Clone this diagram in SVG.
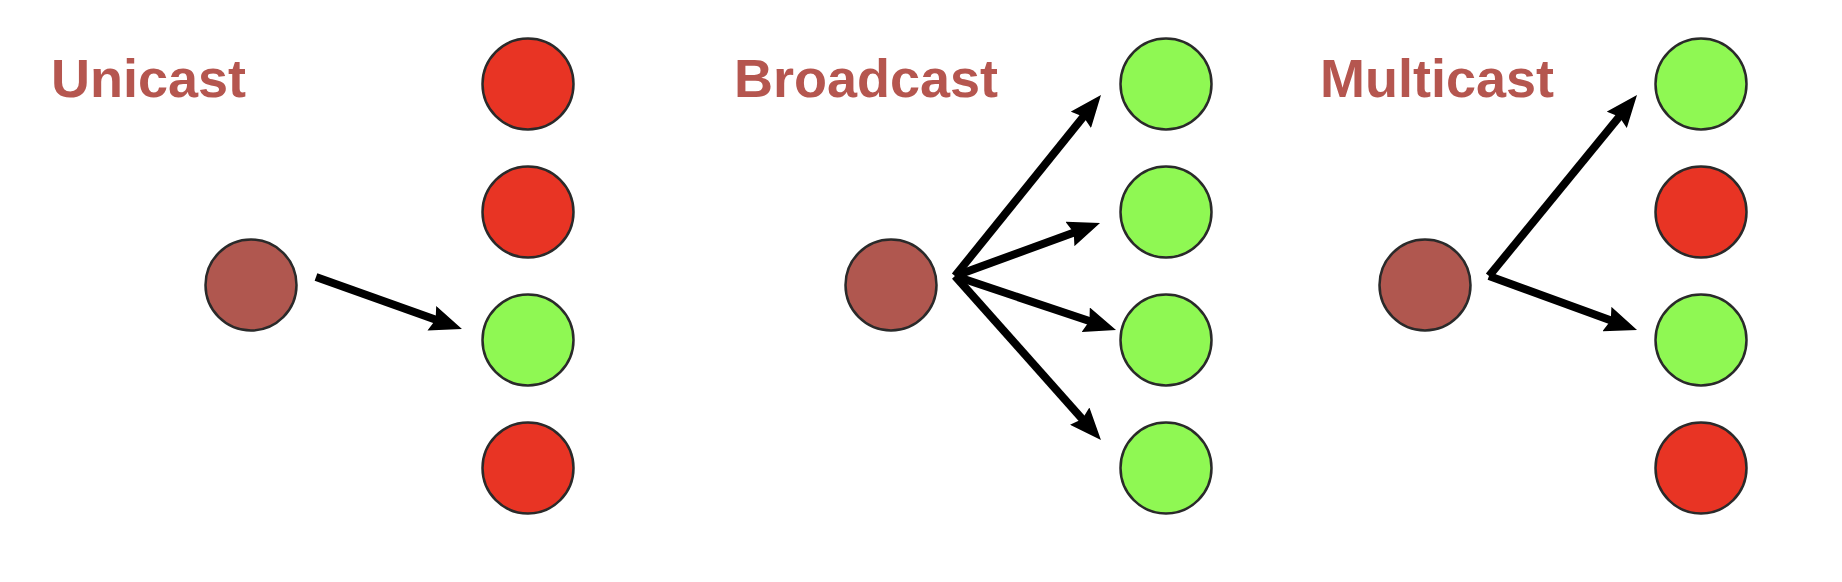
<svg xmlns="http://www.w3.org/2000/svg" width="1842" height="582" viewBox="0 0 1842 582">
<style>
.bg{fill:#ffffff}
.title{font-family:"Liberation Sans",Arial,sans-serif;font-weight:bold;font-size:54px;fill:#B5564F}
.src{fill:#B0574F;stroke:#2a2a2a;stroke-width:2.5}
.red{fill:#E83424;stroke:#2a2a2a;stroke-width:2.5}
.green{fill:#8FF853;stroke:#2a2a2a;stroke-width:2.5}
.arrow{stroke:#000;stroke-width:8;fill:none;marker-end:url(#ah)}
</style>
<defs>
<marker id="ah" viewBox="0 0 32 26" refX="11" refY="13" markerWidth="32" markerHeight="26" orient="auto" markerUnits="userSpaceOnUse">
<path d="M0,0 L32,13 L0,26 L4,13 z" fill="#000"/>
</marker>
</defs>
<rect class="bg" x="0" y="0" width="1842" height="582"/>
<g id="labels">
<text class="title" x="51" y="97">Unicast</text>
<text class="title" x="734" y="97">Broadcast</text>
<text class="title" x="1320" y="97">Multicast</text>
</g>
<g id="unicast-source"><circle class="src" cx="251" cy="285" r="45.5"/></g>
<g id="unicast-r1"><circle class="red" cx="528" cy="84" r="45.5"/></g>
<g id="unicast-r2"><circle class="red" cx="528" cy="212" r="45.5"/></g>
<g id="unicast-r3"><circle class="green" cx="528" cy="340" r="45.5"/></g>
<g id="unicast-r4"><circle class="red" cx="528" cy="468" r="45.5"/></g>
<g id="broadcast-source"><circle class="src" cx="891" cy="285" r="45.5"/></g>
<g id="broadcast-r1"><circle class="green" cx="1166" cy="84" r="45.5"/></g>
<g id="broadcast-r2"><circle class="green" cx="1166" cy="212" r="45.5"/></g>
<g id="broadcast-r3"><circle class="green" cx="1166" cy="340" r="45.5"/></g>
<g id="broadcast-r4"><circle class="green" cx="1166" cy="468" r="45.5"/></g>
<g id="multicast-source"><circle class="src" cx="1425" cy="285" r="45.5"/></g>
<g id="multicast-r1"><circle class="green" cx="1701" cy="84" r="45.5"/></g>
<g id="multicast-r2"><circle class="red" cx="1701" cy="212" r="45.5"/></g>
<g id="multicast-r3"><circle class="green" cx="1701" cy="340" r="45.5"/></g>
<g id="multicast-r4"><circle class="red" cx="1701" cy="468" r="45.5"/></g>
<g id="connectors">
<line class="arrow" x1="316" y1="277" x2="442.2" y2="322"/>
<line class="arrow" x1="955" y1="276" x2="1087.8" y2="111.3"/>
<line class="arrow" x1="955" y1="276" x2="1080.3" y2="230.2"/>
<line class="arrow" x1="955" y1="276" x2="1096.1" y2="323.3"/>
<line class="arrow" x1="955" y1="276" x2="1087" y2="424.3"/>
<line class="arrow" x1="1489" y1="276" x2="1623.7" y2="111.3"/>
<line class="arrow" x1="1489" y1="276" x2="1617.3" y2="322.8"/>
</g>
</svg>
